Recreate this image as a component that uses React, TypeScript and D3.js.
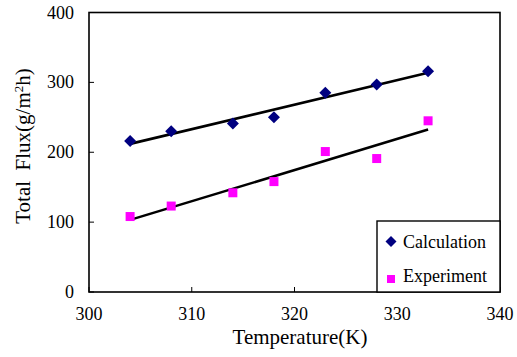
import React from "react";
import * as d3 from "d3";

const temps = [304, 308, 314, 318, 323, 328, 333];
const calculation = [216, 230, 241, 250, 285, 297, 316];
const experiment = [108, 123, 142, 158, 201, 191, 245];
const xTicks = [300, 310, 320, 330, 340];
const yTicks = [0, 100, 200, 300, 400];

const W = 517, H = 357;
const M = { left: 89, right: 500, top: 12.5, bottom: 292 };
const FONT = "Liberation Serif, Times New Roman, Times, DejaVu Serif, serif";

function fit(xs: number[], ys: number[]) {
  const mx = d3.mean(xs)!, my = d3.mean(ys)!;
  let sxy = 0, sxx = 0;
  xs.forEach((x, i) => { sxy += (x - mx) * (ys[i] - my); sxx += (x - mx) ** 2; });
  const b = sxy / sxx;
  return (x: number) => my + b * (x - mx);
}

export default function App() {
  const x = d3.scaleLinear().domain([300, 340]).range([M.left, M.right]);
  const y = d3.scaleLinear().domain([0, 400]).range([M.bottom, M.top]);
  const x0 = d3.min(temps)!, x1 = d3.max(temps)!;
  const fc = fit(temps, calculation);
  const fe = fit(temps, experiment);
  const line = d3.line<[number, number]>().x(d => x(d[0])).y(d => y(d[1]));
  const diamond = (cx: number, cy: number, r: number) =>
    `M${cx},${cy - r}L${cx + r},${cy}L${cx},${cy + r}L${cx - r},${cy}Z`;
  const ts = { fontFamily: FONT };
  return (
    <svg width={W} height={H} style={{ position: "absolute", left: 0, top: 0, background: "#fff", fontFamily: FONT }}>
      <rect x={0} y={0} width={W} height={H} fill="#fff" />
      <rect x={M.left} y={M.top} width={M.right - M.left} height={M.bottom - M.top} fill="none" stroke="#000" strokeWidth={1.6} />
      {yTicks.map(t => (
        <g key={"y" + t}>
          <line x1={M.left} x2={M.left + 5} y1={y(t)} y2={y(t)} stroke="#000" strokeWidth={1} />
          <text x={74} y={y(t) + 6} textAnchor="end" style={ts} fontSize={18} fill="#000">{t}</text>
        </g>
      ))}
      {xTicks.map(t => (
        <g key={"x" + t}>
          <line x1={x(t)} x2={x(t)} y1={M.bottom} y2={M.bottom - 5} stroke="#000" strokeWidth={1} />
          <text x={x(t)} y={320} textAnchor="middle" style={ts} fontSize={18} fill="#000">{t}</text>
        </g>
      ))}
      <path d={line([[x0, fc(x0)], [x1, fc(x1)]])!} stroke="#000" strokeWidth={2.6} fill="none" />
      <path d={line([[x0, fe(x0)], [x1, fe(x1)]])!} stroke="#000" strokeWidth={2.6} fill="none" />
      {temps.map((t, i) => (
        <path key={"c" + i} d={diamond(x(t), y(calculation[i]), 6)} fill="#000080" />
      ))}
      {temps.map((t, i) => (
        <rect key={"e" + i} x={x(t) - 4.5} y={y(experiment[i]) - 4.5} width={9} height={9} fill="#FF00FF" />
      ))}
      <rect x={377} y={221} width={123} height={71} fill="#fff" stroke="#000" strokeWidth={1.4} />
      <path d={diamond(391, 241.5, 5.5)} fill="#000080" />
      <text x={403} y={247.5} style={ts} fontSize={18} fill="#000">Calculation</text>
      <rect x={387} y={275} width={8} height={8} fill="#FF00FF" />
      <text x={403} y={281.5} style={ts} fontSize={18} fill="#000">Experiment</text>
      <text x={300} y={344} textAnchor="middle" style={ts} fontSize={21} fill="#000">Temperature(K)</text>
      <text transform={`translate(30, 146) rotate(-90)`} textAnchor="middle" style={ts} fontSize={21} fill="#000">
        {"Total \u00a0Flux(g/m"}<tspan dy={-7} fontSize={13}>2</tspan><tspan dy={7}>h)</tspan>
      </text>
    </svg>
  );
}
